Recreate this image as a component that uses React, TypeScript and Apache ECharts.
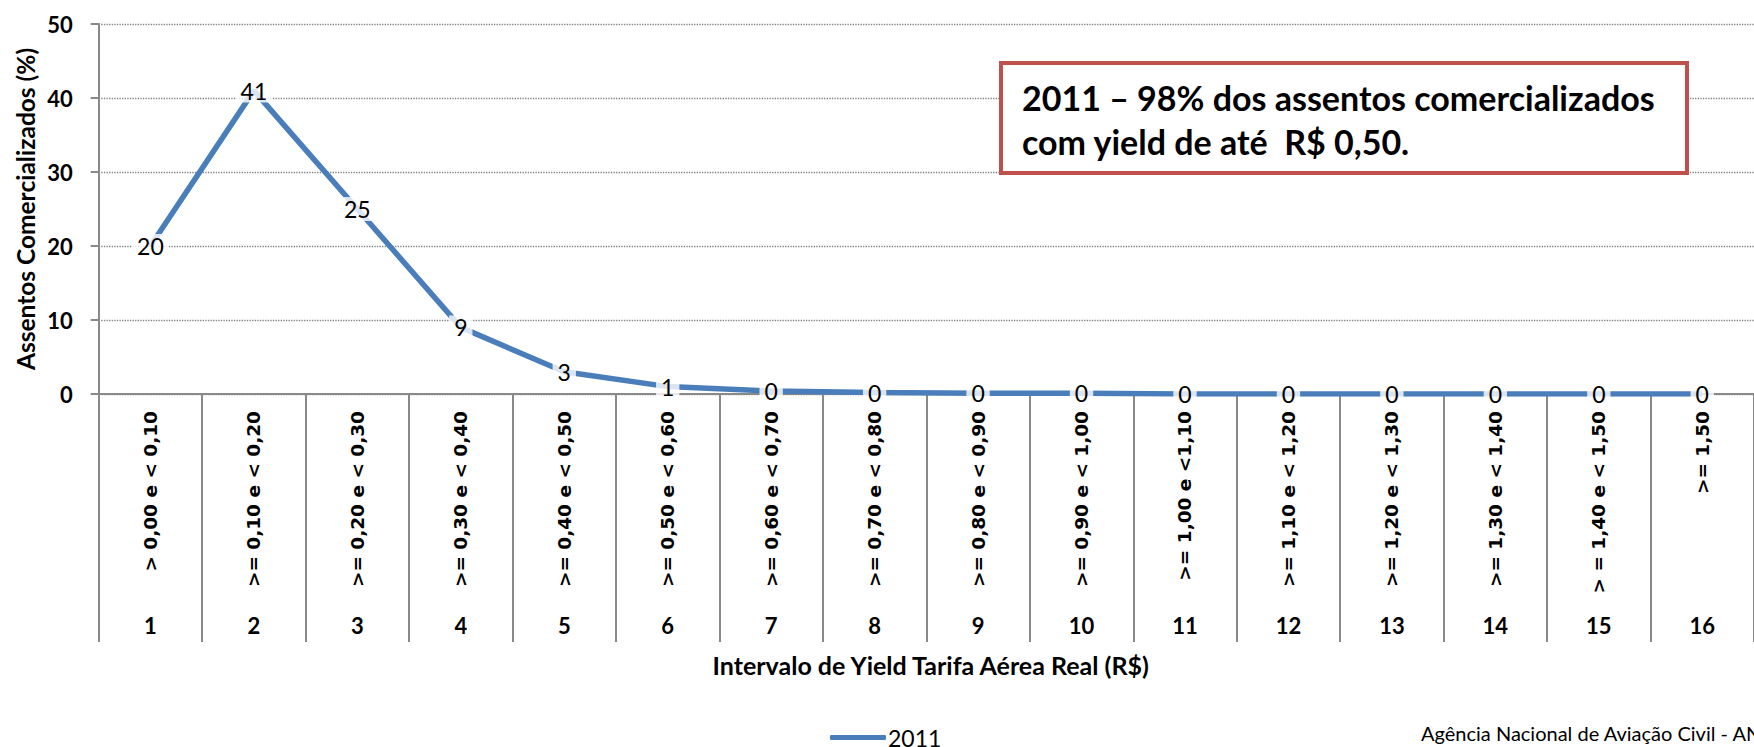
import React, { useEffect, useRef } from "react";
import * as echarts from "echarts";

const categories = [
  "> 0,00 e < 0,10",
  ">= 0,10 e < 0,20",
  ">= 0,20 e < 0,30",
  ">= 0,30 e < 0,40",
  ">= 0,40 e < 0,50",
  ">= 0,50 e < 0,60",
  ">= 0,60 e < 0,70",
  ">= 0,70 e < 0,80",
  ">= 0,80 e < 0,90",
  ">= 0,90 e < 1,00",
  ">= 1,00 e <1,10",
  ">= 1,10 e < 1,20",
  ">= 1,20 e < 1,30",
  ">= 1,30 e < 1,40",
  "> = 1,40 e < 1,50",
  ">= 1,50",
];
const indexLabels = ["1", "2", "3", "4", "5", "6", "7", "8", "9", "10", "11", "12", "13", "14", "15", "16"];
const values2011 = [20, 41, 25, 9, 3, 1, 0.4, 0.2, 0.1, 0.1, 0, 0, 0, 0, 0, 0];
const seriesName = "2011";
const yMin = 0;
const yMax = 50;
const yInterval = 10;
const yTitle = "Assentos Comercializados (%)";
const xTitle = "Intervalo de Yield Tarifa Aérea Real (R$)";
const noteLines = ["2011 – 98% dos assentos comercializados", "com yield de até  R$ 0,50."];
const footer = "Agência Nacional de Aviação Civil - ANAC";

const GRAY = "#898989";
const BLUE = "#4A7EBB";

export default function App() {
  const ref = useRef<HTMLDivElement>(null);
  useEffect(() => {
    if (!ref.current) return;
    const chart = echarts.init(ref.current, undefined, { renderer: "svg" });
    const gridLeft = 98.7;
    const gridTop = 24;
    const gridHeight = 370;
    const gridWidth = 104 * 16;
    chart.setOption({
      animation: false,
      backgroundColor: "#ffffff",
      grid: { left: gridLeft, top: gridTop, width: gridWidth, height: gridHeight, containLabel: false },
      legend: {
        show: true,
        left: 830,
        top: 726,
        padding: 0,
        itemWidth: 56,
        itemHeight: 5,
        itemGap: 10,
        icon: "roundRect",
        textStyle: { fontFamily: "Lato", fontSize: 23, color: "#000", padding: [0, 0, 0, -3], lineHeight: 22 },
        data: [{ name: seriesName, itemStyle: { color: BLUE } }],
      },
      xAxis: [
        {
          type: "category",
          data: categories,
          boundaryGap: true,
          axisLine: { show: true, lineStyle: { color: GRAY, width: 2 } },
          axisTick: { show: true, interval: 0, length: 248, lineStyle: { color: GRAY, width: 2 } },
          axisLabel: {
            interval: 0,
            rotate: 90,
            margin: 17,
            fontFamily: "DejaVu Sans",
            fontWeight: "bold",
            fontSize: 18.5,
            color: "#000",
          },
          splitLine: { show: false },
        },
        {
          type: "category",
          data: indexLabels,
          position: "bottom",
          boundaryGap: true,
          axisLine: { show: false },
          axisTick: { show: false },
          splitLine: { show: false },
          axisLabel: {
            interval: 0,
            margin: 220,
            fontFamily: "Lato",
            fontWeight: "bold",
            fontSize: 22,
            lineHeight: 22,
            color: "#000",
          },
        },
      ],
      yAxis: {
        type: "value",
        min: yMin,
        max: yMax,
        interval: yInterval,
        axisLine: { show: true, lineStyle: { color: GRAY, width: 2 } },
        axisTick: { show: true, length: 8, lineStyle: { color: GRAY, width: 2 } },
        axisLabel: { margin: 26, fontFamily: "Lato", fontWeight: "bold", fontSize: 22, color: "#000" },
        splitLine: { show: true, lineStyle: { color: "#7F7F7F", width: 1.3, type: "dotted" } },
      },
      series: [
        {
          name: seriesName,
          type: "line",
          data: values2011,
          xAxisIndex: 0,
          color: BLUE,
          symbol: "circle",
          symbolSize: 1,
          showSymbol: true,
          lineStyle: { color: BLUE, width: 5.5 },
          itemStyle: { color: BLUE },
          label: {
            show: true,
            position: "inside",
            formatter: (p: any) => String(Math.round(p.value)),
            fontFamily: "Lato",
            fontSize: 23,
            color: "#000",
            backgroundColor: "rgba(255,255,255,0.8)",
            padding: [1, 5, 0, 5],
          },
          z: 3,
        },
      ],
      graphic: [
        {
          type: "text",
          x: 25,
          y: 209,
          rotation: Math.PI / 2,
          style: {
            text: yTitle,
            fontFamily: "Lato",
            fontWeight: "bold",
            fontSize: 24.5,
            fill: "#000",
            textAlign: "center",
            textVerticalAlign: "middle",
          },
        },
        {
          type: "text",
          x: gridLeft + gridWidth / 2,
          y: 665,
          style: {
            text: xTitle,
            fontFamily: "Lato",
            fontWeight: "bold",
            fontSize: 25,
            fill: "#000",
            textAlign: "center",
            textVerticalAlign: "middle",
          },
        },
        {
          type: "rect",
          shape: { x: 1001, y: 63, width: 686, height: 110 },
          style: { fill: "#ffffff", stroke: "#C0504D", lineWidth: 4 },
          z: 10,
        },
        {
          type: "text",
          x: 1022,
          y: 97,
          style: {
            text: noteLines[0],
            fontFamily: "Lato",
            fontWeight: "bold",
            fontSize: 34,
            fill: "#000",
            textAlign: "left",
            textVerticalAlign: "middle",
          },
          z: 11,
        },
        {
          type: "text",
          x: 1022,
          y: 141,
          style: {
            text: noteLines[1],
            fontFamily: "Lato",
            fontWeight: "bold",
            fontSize: 34,
            fill: "#000",
            textAlign: "left",
            textVerticalAlign: "middle",
          },
          z: 11,
        },
        {
          type: "text",
          x: 1421,
          y: 733,
          style: {
            text: footer,
            fontFamily: "Lato",
            fontSize: 20,
            fill: "#000",
            textAlign: "left",
            textVerticalAlign: "middle",
          },
        },
      ],
    });
    return () => chart.dispose();
  }, []);
  return (
    <div
      ref={ref}
      style={{ position: "fixed", left: 0, top: 0, width: 1754, height: 747, background: "#fff" }}
    />
  );
}
